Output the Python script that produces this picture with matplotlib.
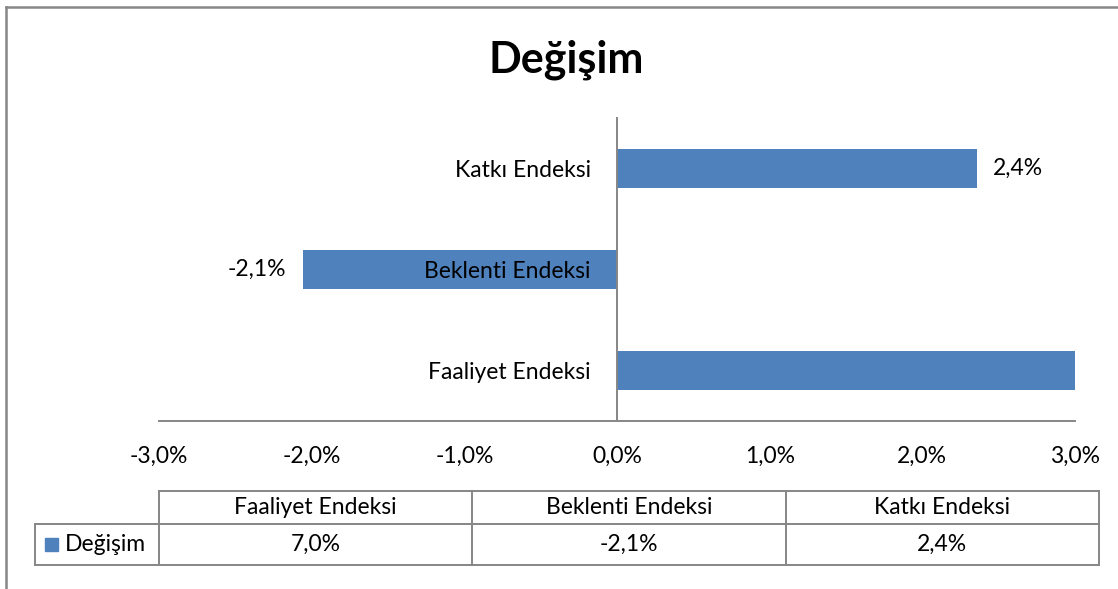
import matplotlib
matplotlib.use("Agg")
import matplotlib.pyplot as plt
from matplotlib.lines import Line2D
from matplotlib.patches import Rectangle

plt.rcParams['font.family'] = ['Lato', 'DejaVu Sans']

# ---- data ----
title = "Değişim"
series_name = "Değişim"
categories = ["Faaliyet Endeksi", "Beklenti Endeksi", "Katkı Endeksi"]
values = [7.0, -2.06, 2.36]
x_ticks = [-3.0, -2.0, -1.0, 0.0, 1.0, 2.0, 3.0]

def fmt(v):
    return f"{v:.1f}".replace('.', ',') + '%'

W, H = 1118, 589
fig = plt.figure(figsize=(W / 100, H / 100), dpi=100)

def fx(px):
    return px / W

def fy(py):
    return 1 - py / H

bar_color = '#4F81BD'
gray = '#868686'
fs = 16.5

ax = fig.add_axes([fx(159), fy(421), fx(1075) - fx(159), fy(118) - fy(421)])
ax.spines['left'].set_position(('data', 0))
ypos = list(range(len(categories)))
ax.barh(ypos, values, height=0.39, color=bar_color, zorder=2)
ax.set_xlim(x_ticks[0], x_ticks[-1])
ax.set_ylim(-0.5, len(categories) - 0.5)
ax.set_xticks(x_ticks)
ax.set_xticklabels([fmt(t) for t in x_ticks])
ax.set_yticks(ypos)
ax.set_yticklabels(categories)
ax.tick_params(axis='x', length=0, pad=18, labelsize=fs)
ax.tick_params(axis='y', length=0, pad=19, labelsize=fs)
for s in ['top', 'right']:
    ax.spines[s].set_visible(False)
ax.spines['left'].set_color(gray)
ax.spines['left'].set_linewidth(1.4)
ax.spines['bottom'].set_color(gray)
ax.spines['bottom'].set_linewidth(1.4)
ax.spines['left'].set_zorder(3)
ax.yaxis.set_zorder(4)

# data labels
for y, v in zip(ypos, values):
    if x_ticks[0] <= v <= x_ticks[-1]:
        if v >= 0:
            ax.annotate(fmt(v), (v, y), xytext=(11, 0), textcoords='offset points',
                        ha='left', va='center', fontsize=fs)
        else:
            ax.annotate(fmt(v), (v, y), xytext=(-12, 0), textcoords='offset points',
                        ha='right', va='center', fontsize=fs)

# title
fig.text(fx(566.5), fy(60), title, ha='center', va='center', fontsize=31, fontweight='bold')

# data table
tx0, tx1 = 159, 1099
lx0 = 35
ty0, ty1, ty2 = 491, 524, 565
n = len(categories)
colw = (tx1 - tx0) / n
lw = 1.4

def hline(x0, x1, y):
    fig.add_artist(Line2D([fx(x0), fx(x1)], [fy(y), fy(y)], color=gray, lw=lw))

def vline(x, y0, y1):
    fig.add_artist(Line2D([fx(x), fx(x)], [fy(y0), fy(y1)], color=gray, lw=lw))

hline(tx0, tx1, ty0)
hline(lx0, tx1, ty1)
hline(lx0, tx1, ty2)
vline(lx0, ty1, ty2)
for i in range(n + 1):
    vline(tx0 + i * colw, ty0, ty2)
for i, (c, v) in enumerate(zip(categories, values)):
    cx = tx0 + (i + 0.5) * colw
    fig.text(fx(cx), fy((ty0 + ty1) / 2), c, ha='center', va='center', fontsize=fs)
    fig.text(fx(cx), fy((ty1 + ty2) / 2), fmt(v), ha='center', va='center', fontsize=fs)
fig.add_artist(Rectangle((fx(45), fy(551)), fx(13), fy(538) - fy(551), color=bar_color))
fig.text(fx(65), fy((ty1 + ty2) / 2), series_name, ha='left', va='center', fontsize=fs)

# outer chart border
fig.add_artist(Line2D([fx(6), fx(W + 5)], [fy(7), fy(7)], color='#878787', lw=1.8))
fig.add_artist(Line2D([fx(6), fx(6)], [fy(7), fy(H + 5)], color='#878787', lw=1.8))

fig.savefig('out.png', dpi=100)
